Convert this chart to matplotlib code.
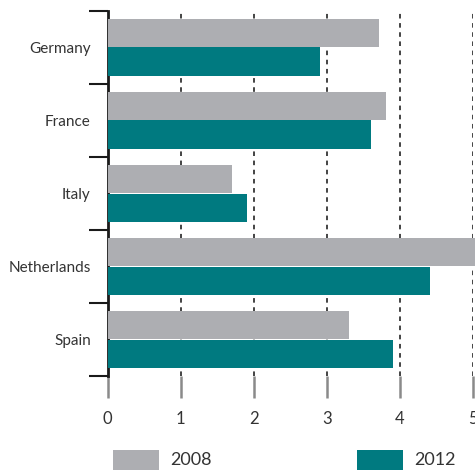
import matplotlib
matplotlib.use("Agg")
import matplotlib.pyplot as plt
import numpy as np
from matplotlib.patches import Rectangle
from matplotlib.ticker import FixedLocator

categories = ["Germany", "France", "Italy", "Netherlands", "Spain"]
values_2008 = [3.72, 3.81, 1.71, 5.1, 3.31]
values_2012 = [2.91, 3.61, 1.91, 4.42, 3.91]
series_labels = ["2008", "2012"]
xticks = [0, 1, 2, 3, 4, 5]

GRAY = "#adaeb2"
TEAL = "#007a80"
TXT = "#333333"

plt.rcParams['font.family'] = ['Lato', 'DejaVu Sans']

fig = plt.figure(figsize=(4.75, 4.73), dpi=100)
W, H = 475, 473
ax = fig.add_axes([107.5 / W, 1 - 376 / H, (472.7 - 107.5) / W, (376 - 11) / H])

y = np.arange(len(categories))
h = 0.384
b1 = ax.barh(y - h / 2, values_2008, height=h, color=GRAY, zorder=3)
b2 = ax.barh(y + h / 2, values_2012, height=h, color=TEAL, zorder=3)
for r in list(b1) + list(b2):
    r.set_clip_on(False)

ax.set_xlim(0, 5)
ax.set_ylim(len(categories) - 0.5, -0.5)

for s in ["top", "right", "bottom"]:
    ax.spines[s].set_visible(False)
ax.spines["left"].set_color("#1a1a1a")
ax.spines["left"].set_linewidth(2)
ax.spines["left"].set_zorder(2)

ax.set_xticks(xticks)
ax.set_xticklabels([str(t) for t in xticks])
ax.tick_params(axis="x", direction="out", length=15.5, width=1.8, color="#8a8a8a",
               pad=10, labelsize=12, labelcolor=TXT)

for t in xticks[1:]:
    ax.axvline(t, color="#111111", linestyle=(0, (3, 3)), linewidth=1.1, zorder=1)

ax.set_yticks(y)
ax.set_yticklabels(categories)
ax.yaxis.set_minor_locator(FixedLocator(np.arange(-0.5, len(categories), 1.0)))
ax.tick_params(axis="y", which="major", length=0, pad=12, labelsize=11, labelcolor=TXT)
ax.tick_params(axis="y", which="minor", length=14, width=1.5, color="#1a1a1a")

# legend
fig.add_artist(Rectangle((113 / W, 1 - 470 / H), 46 / W, 20 / H, transform=fig.transFigure,
                         facecolor=GRAY, edgecolor="none"))
fig.text(170 / W, 1 - 460 / H, series_labels[0], ha="left", va="center",
         fontsize=13, color=TXT)
fig.add_artist(Rectangle((357 / W, 1 - 470 / H), 46 / W, 20 / H, transform=fig.transFigure,
                         facecolor=TEAL, edgecolor="none"))
fig.text(414 / W, 1 - 460 / H, series_labels[1], ha="left", va="center",
         fontsize=13, color=TXT)

fig.savefig("out.png", dpi=100)
